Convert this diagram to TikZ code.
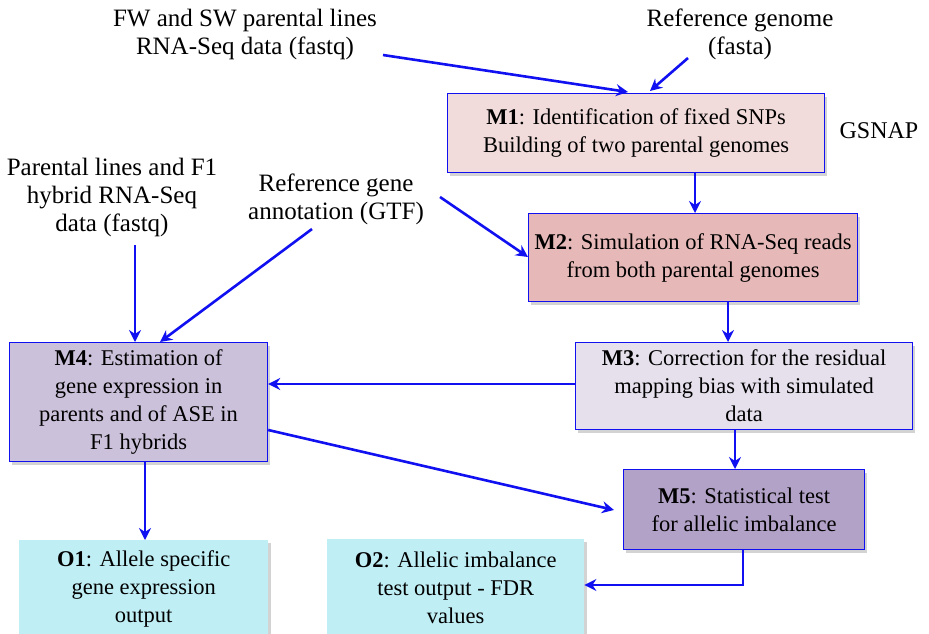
\documentclass[tikz,border=0pt]{standalone}
\usepackage{fontspec}
\setmainfont{Liberation Serif}
\usetikzlibrary{shadows,arrows.meta}
\definecolor{bl}{HTML}{1010F0}
\definecolor{cM1}{HTML}{F2DCDB}
\definecolor{cM2}{HTML}{E6B9B8}
\definecolor{cM3}{HTML}{E6E0EC}
\definecolor{cM4}{HTML}{CCC1DA}
\definecolor{cM5}{HTML}{B3A2C7}
\definecolor{cO}{HTML}{C0EEF5}
\begin{document}
\begin{tikzpicture}[x=1pt,y=-1pt,
  txt/.style={font=\fontsize{22.5}{28}\selectfont, align=center, inner sep=0pt},
  box/.style={txt, draw=bl, line width=1.2pt, anchor=north west,
    drop shadow={shadow xshift=2.5pt,shadow yshift=-3pt,opacity=0.35}},
  obox/.style={txt, anchor=north west,
    drop shadow={shadow xshift=2.5pt,shadow yshift=-3pt,opacity=0.35}},
  arr/.style={draw=bl, line width=2.6pt, -{Stealth[length=12pt,width=12pt,inset=4pt]}},
  lbl/.style={txt, font=\fontsize{25}{28}\selectfont}]
\useasboundingbox (0,0) rectangle (929,633);

% labels
\node[lbl] (fw) at (245,34) {FW and SW parental lines\\RNA-Seq data (fastq)};
\node[lbl] (rg) at (740,34) {Reference genome\\(fasta)};
\node[lbl] (pl) at (112,197) {Parental lines and F1\\hybrid RNA-Seq\\data (fastq)};
\node[lbl] (ga) at (336,199) {Reference gene\\annotation (GTF)};

% boxes
\node[box, fill=cM1, minimum width=377pt, minimum height=79pt] (m1) at (447,93)
  {\textbf{M1}: Identification of fixed SNPs\\Building of two parental genomes};
\node[txt, font=\fontsize{24}{28}\selectfont] (gs) at (879,131) {GSNAP};
\node[box, fill=cM2, minimum width=329pt, minimum height=88pt] (m2) at (528,213)
  {\textbf{M2}: Simulation of RNA-Seq reads\\from both parental genomes};
\node[box, fill=cM3, minimum width=337pt, minimum height=87pt] (m3) at (575,342)
  {\textbf{M3}: Correction for the residual\\mapping bias with simulated\\data};
\node[box, fill=cM4, minimum width=258pt, minimum height=119pt] (m4) at (9,342)
  {\textbf{M4}: Estimation of\\gene expression in\\parents and of ASE in\\F1 hybrids};
\node[box, fill=cM5, minimum width=241pt, minimum height=80pt] (m5) at (623,469)
  {\textbf{M5}: Statistical test\\for allelic imbalance};
\node[obox, fill=cO, minimum width=249pt, minimum height=98pt] (o1) at (19,540)
  {\textbf{O1}: Allele specific\\gene expression\\output};
\node[obox, fill=cO, minimum width=257pt, minimum height=98pt] (o2) at (327,539)
  {\textbf{O2}: Allelic imbalance\\test output - FDR\\values};

% connectors
\coordinate (fwe) at (383,55);
\coordinate (rge) at (688,58);
\coordinate (ple) at (135,245);
\coordinate (gae) at (312,229);
\coordinate (gaf) at (440,197);
\draw[arr] (fwe) -- (628,92);
\draw[arr] (rge) -- (650,91);
\draw[arr] (m1.south -| 695,0) -- (m2.north -| 695,0);
\draw[arr] (gaf) -- (m2.west |- 0,257);
\draw[arr] (ple) -- (m4.north -| 135,0);
\draw[arr] (gae) -- (m4.north -| 160,0);
\draw[arr] (m2.south -| 728,0) -- (m3.north -| 728,0);
\draw[arr] (m3.west |- 0,384) -- (m4.east |- 0,384);
\draw[arr] (m4.east |- 0,430) -- (614,510);
\draw[arr] (m3.south -| 735,0) -- (m5.north -| 735,0);
\draw[arr] (m5.south -| 743,0) -- (743,585) -- (o2.east |- 0,585);
\draw[arr] (m4.south -| 145,0) -- (o1.north -| 145,0);
\end{tikzpicture}
\end{document}
